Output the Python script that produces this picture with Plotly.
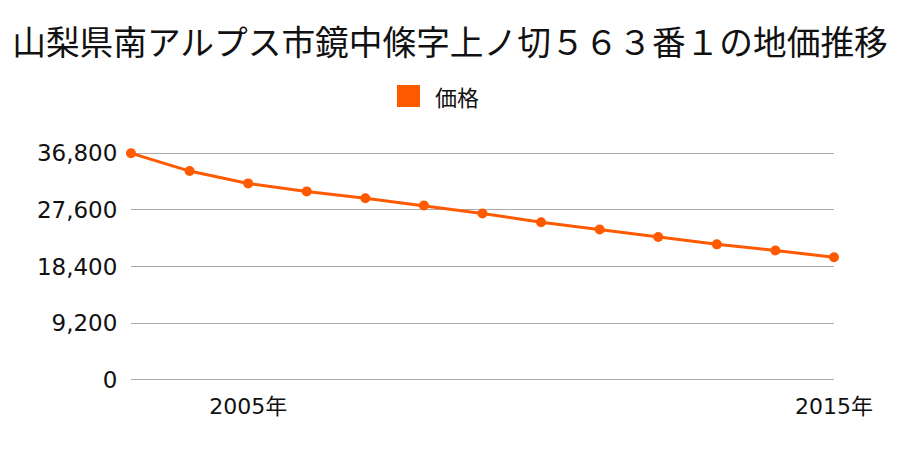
import plotly.graph_objects as go

years = [2003, 2004, 2005, 2006, 2007, 2008, 2009, 2010, 2011, 2012, 2013, 2014, 2015]
prices = [36800, 33900, 31900, 30600, 29500, 28300, 27000, 25600, 24400, 23200, 22000, 21000, 19900]
y_ticks = [0, 9200, 18400, 27600, 36800]
y_tick_labels = ["0", "9,200", "18,400", "27,600", "36,800"]
x_ticks = [2005, 2015]
x_tick_labels = ["2005年", "2015年"]
title = "山梨県南アルプス市鏡中條字上ノ切５６３番１の地価推移"
series_name = "価格"

color = "#ff5a00"
font = "Noto Sans CJK JP"
tickfont = "DejaVu Sans, Noto Sans CJK JP"

fig = go.Figure()
fig.add_trace(go.Scatter(
    x=years, y=prices, mode="lines+markers", name=series_name,
    line=dict(color=color, width=3),
    marker=dict(color=color, size=10),
    showlegend=False, cliponaxis=False,
))

# plot area: x 131..834, y 152..381 (0 at ~380, 36800 at ~153)
fig.update_layout(
    width=900, height=450,
    margin=dict(l=131, r=66, t=152, b=69),
    paper_bgcolor="white", plot_bgcolor="white",
    font=dict(family=font, color="#111111"),
    title=dict(text=title, x=0.5, xanchor="center", y=0.905, yanchor="middle",
               font=dict(size=33.7, family=font, color="#111111")),
    xaxis=dict(range=[2003, 2015], tickvals=x_ticks, ticktext=x_tick_labels,
               showgrid=False, zeroline=False, showline=False,
               ticks="outside", ticklen=6, tickcolor="rgba(0,0,0,0)",
               tickfont=dict(size=22, family=tickfont, color="#111111")),
    yaxis=dict(range=[-200, 37000], tickvals=y_ticks, ticktext=y_tick_labels,
               showgrid=True, gridcolor="#aaaaaa", gridwidth=1,
               zeroline=True, zerolinecolor="#aaaaaa", zerolinewidth=1,
               showline=False,
               ticks="outside", ticklen=8, tickcolor="rgba(0,0,0,0)",
               tickfont=dict(size=23, family=tickfont, color="#111111")),
    shapes=[dict(type="rect", xref="paper", yref="paper",
                 x0=(397 - 131) / 703, x1=(420 - 131) / 703,
                 y0=(450 - 69 - 107) / 229, y1=(450 - 69 - 85) / 229,
                 fillcolor=color, line=dict(width=0))],
    annotations=[dict(text=series_name, xref="paper", yref="paper",
                      x=(433 - 131) / 703, y=(450 - 69 - 96) / 229,
                      xanchor="left", yanchor="middle", showarrow=False,
                      font=dict(size=22, family=font, color="#111111"))],
)

fig.write_html("out.html")
